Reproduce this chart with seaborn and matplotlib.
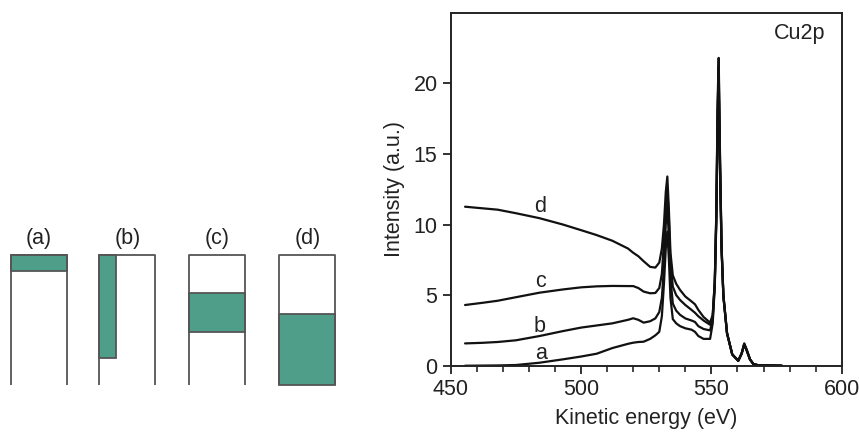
import numpy as np
import pandas as pd
import matplotlib
matplotlib.use("Agg")
import matplotlib.pyplot as plt
from matplotlib.patches import Rectangle
from matplotlib.ticker import MultipleLocator
import seaborn as sns

# ---------------- data ----------------
energy = [455.5, 462, 468, 475, 484, 493, 500, 506, 512, 518, 520, 522, 524, 526.5,
          528.5, 530, 531, 531.8, 532.5, 533.1, 533.7, 534.3, 535.2, 536.5, 538, 540,
          542.4, 543.7, 545, 547, 549.5, 550.5, 551.3, 551.9, 552.4, 552.8, 553.3,
          553.9, 554.6, 556, 558, 560.3, 561.6, 562.6, 563.5, 564.8, 566.1, 568, 577]

tail_d = [3.6, 6.0, 11.0, 18.8, 21.8, 15.0, 8.5, 5.0, 2.3, 0.8, 0.35, 0.87, 1.58, 1.15, 0.45, 0.12, 0.03, 0.0]
tail_c = [3.5, 5.9, 10.8, 18.3, 21.2, 14.6, 8.4, 5.0, 2.3, 0.8, 0.35, 0.87, 1.55, 1.15, 0.45, 0.12, 0.03, 0.0]
tail_b = [3.3, 5.8, 10.6, 17.8, 20.6, 14.2, 8.3, 4.9, 2.3, 0.8, 0.35, 0.85, 1.5, 1.1, 0.45, 0.12, 0.03, 0.0]
tail_a = [3.0, 5.6, 10.3, 17.2, 20.0, 13.8, 8.2, 4.9, 2.3, 0.8, 0.35, 0.85, 1.5, 1.1, 0.45, 0.12, 0.03, 0.0]

intensity_d = [11.26, 11.15, 11.05, 10.8, 10.45, 10.0, 9.6, 9.25, 8.85, 8.3, 8.0, 7.75, 7.4, 7.0,
               6.95, 7.3, 8.3, 10.0, 12.3, 13.4, 11.0, 8.0, 6.4, 5.8, 5.36, 4.9,
               4.55, 4.35, 3.95, 3.45, 3.05] + tail_d
intensity_c = [4.3, 4.45, 4.6, 4.85, 5.17, 5.4, 5.55, 5.62, 5.65, 5.64, 5.64, 5.5, 5.25, 5.13,
               5.15, 5.5, 6.5, 8.8, 11.3, 12.6, 10.3, 7.3, 5.6, 5.0, 4.65, 4.3,
               3.95, 3.75, 3.5, 3.2, 2.9] + tail_c
intensity_b = [1.58, 1.62, 1.68, 1.8, 2.1, 2.45, 2.7, 2.85, 3.0, 3.25, 3.36, 3.25, 3.05, 3.15,
               3.35, 3.8, 4.8, 7.0, 10.0, 11.3, 9.0, 6.2, 4.4, 3.9, 3.6, 3.35,
               3.2, 3.1, 2.8, 2.6, 2.5] + tail_b
intensity_a = [0.0, 0.01, 0.02, 0.05, 0.21, 0.45, 0.65, 0.85, 1.25, 1.55, 1.63, 1.68, 1.7, 1.9,
               2.15, 2.4, 3.5, 5.8, 8.3, 9.5, 7.5, 4.8, 3.3, 3.0, 2.8, 2.65,
               2.55, 2.4, 2.1, 1.9, 1.9] + tail_a

curve_names = ["a", "b", "c", "d"]
label_x = [484.5, 484.0, 484.5, 484.4]
label_y = [0.45, 2.41, 5.55, 10.86]

# schematic panels: fill extents as fractions of each box
panel_labels = ["(a)", "(b)", "(c)", "(d)"]
fill_left = [0.0, 0.0, 0.0, 0.0]
fill_right = [1.0, 0.29, 1.0, 1.0]
fill_top = [0.0, 0.0, 0.29, 0.45]
fill_bottom = [0.12, 0.79, 0.59, 1.0]

teal = "#4E9E89"
edge = "#555555"
ink = "#222222"
fs = 15.5

# ---------------- figure ----------------
sns.set_theme(style="white")
plt.rcParams['font.family'] = ['Liberation Sans', 'DejaVu Sans']

fig = plt.figure(figsize=(8.59, 4.36), dpi=100)

# left schematic in pixel coordinates
axl = fig.add_axes([0, 0, 1, 1])
axl.set_xlim(0, 859)
axl.set_ylim(436, 0)
axl.axis("off")
box_left = [10.7, 99.3, 189.3, 279.3]
box_w = 56.0
box_top = 255.0
box_bot = 385.0
for i, lab in enumerate(panel_labels):
    x0 = box_left[i]
    h = box_bot - box_top
    fx0 = x0 + fill_left[i] * box_w
    fx1 = x0 + fill_right[i] * box_w
    fy0 = box_top + fill_top[i] * h
    fy1 = box_top + fill_bottom[i] * h
    axl.add_patch(Rectangle((fx0, fy0), fx1 - fx0, fy1 - fy0, facecolor=teal,
                            edgecolor=edge, lw=1.3))
    axl.plot([x0, x0, x0 + box_w, x0 + box_w], [box_bot, box_top, box_top, box_bot],
             color=edge, lw=1.3, solid_capstyle="butt")
    axl.text(x0 + box_w / 2, 238.5, lab, ha="center", va="center", fontsize=fs, color=ink)

# spectrum axes
ax = fig.add_axes([0.5247, 0.1612, 0.4552, 0.8097])
rows = []
for name, vals in zip(curve_names, [intensity_a, intensity_b, intensity_c, intensity_d]):
    for e, v in zip(energy, vals):
        rows.append({"energy": e, "intensity": v, "curve": name})
df = pd.DataFrame(rows)
sns.lineplot(data=df, x="energy", y="intensity", hue="curve", units="curve",
             estimator=None, palette={n: "#111111" for n in curve_names},
             lw=1.6, legend=False, ax=ax)

for n, lx, ly in zip(curve_names, label_x, label_y):
    ax.text(lx, ly, n, ha="center", va="baseline", fontsize=fs, color=ink)
ax.text(0.957, 0.972, "Cu2p", transform=ax.transAxes, ha="right", va="top",
        fontsize=fs, color=ink)

ax.set_xlim(450, 600)
ax.set_ylim(0, 25)
ax.set_xticks([450, 500, 550, 600])
ax.xaxis.set_minor_locator(MultipleLocator(10))
ax.set_yticks([0, 5, 10, 15, 20])
ax.tick_params(axis="both", which="major", direction="out", length=6, width=1.3,
               labelsize=fs, colors=ink, bottom=True, left=True)
ax.tick_params(axis="x", which="minor", direction="out", length=4, width=1.2,
               bottom=True)
for s in ax.spines.values():
    s.set_color(ink)
    s.set_linewidth(1.4)
ax.set_xlabel("Kinetic energy (eV)", fontsize=fs, color=ink, labelpad=6)
ax.set_ylabel("Intensity (a.u.)", fontsize=fs, color=ink, labelpad=6)

fig.savefig("out.png", dpi=100)
